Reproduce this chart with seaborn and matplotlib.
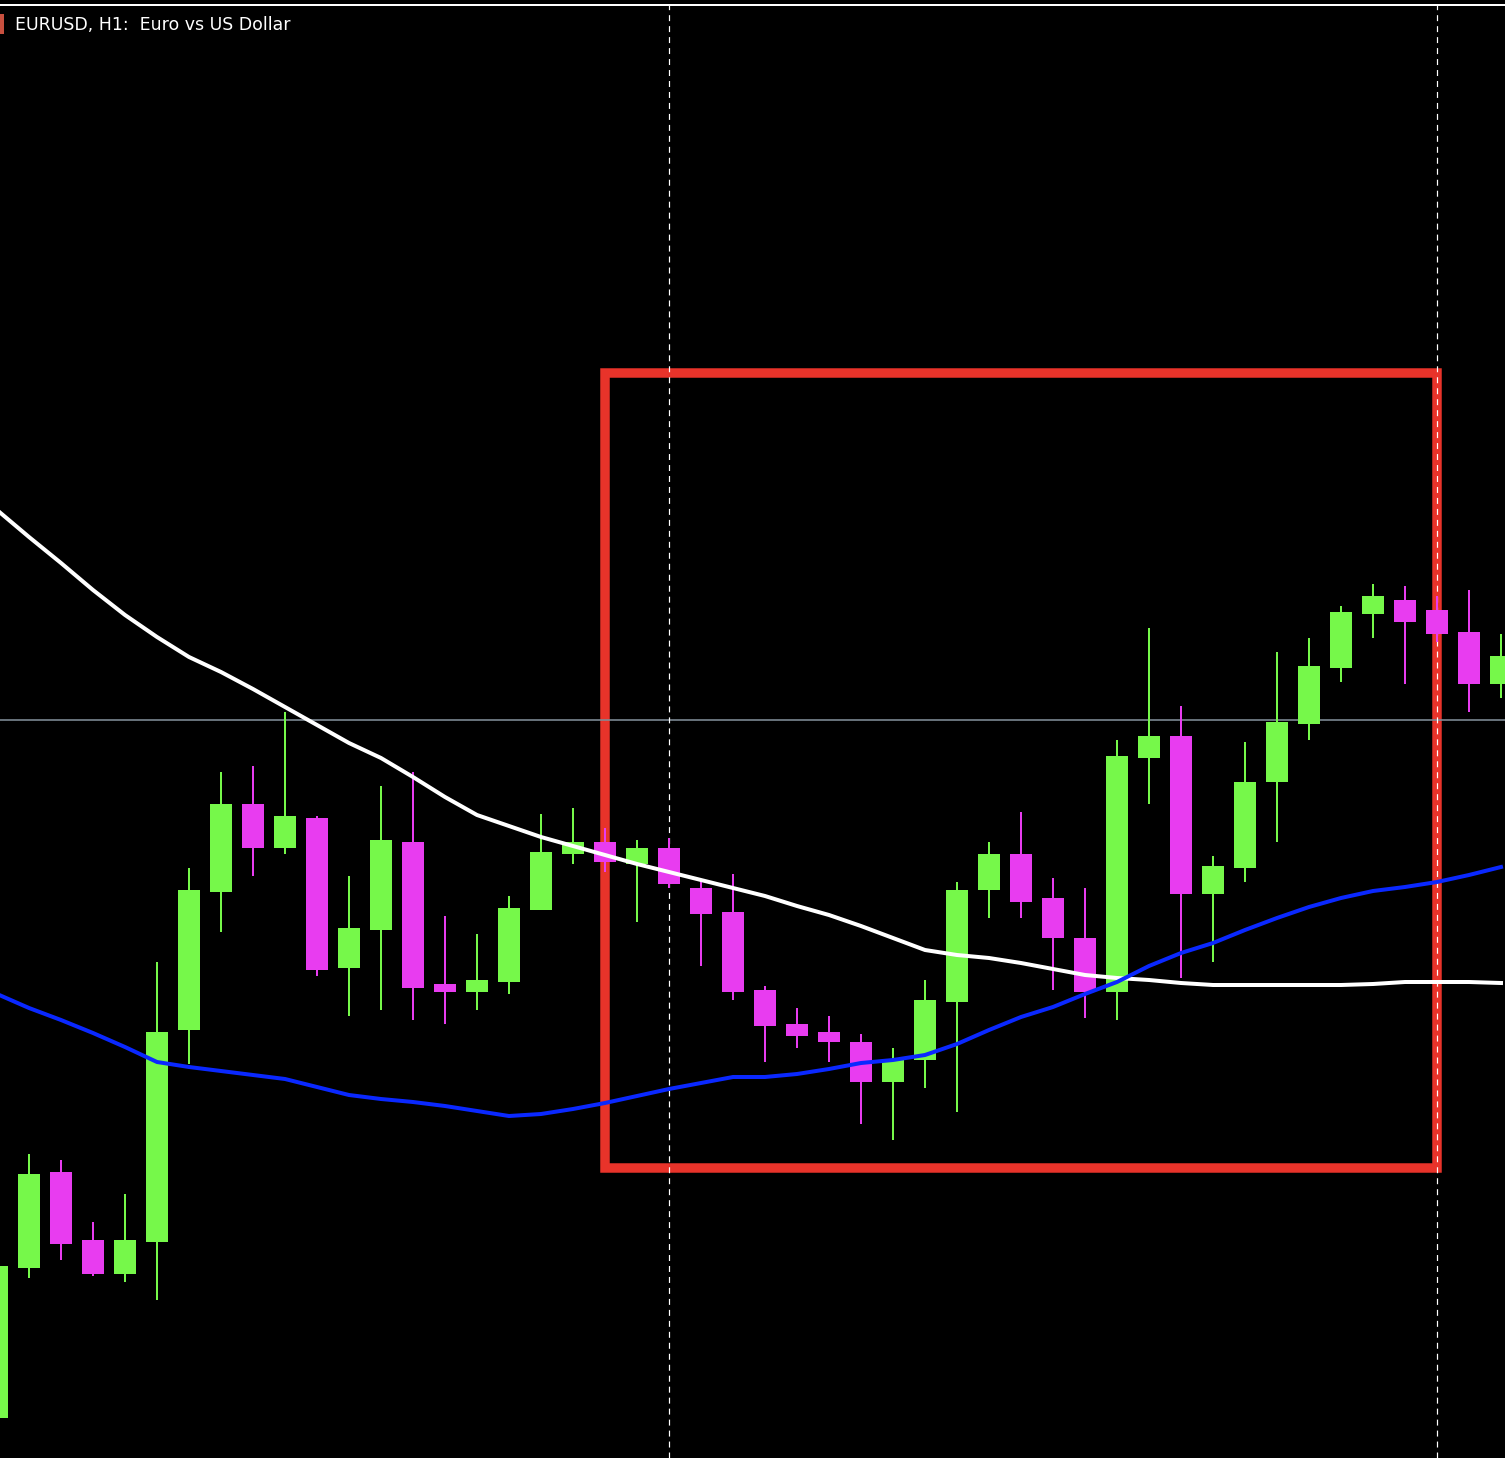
import numpy as np
import pandas as pd
import matplotlib
matplotlib.use("Agg")
import matplotlib.pyplot as plt
import seaborn as sns
from matplotlib.patches import Rectangle

# ---------------- data (EURUSD H1) ----------------
opens = [1.07802, 1.07952, 1.08048, 1.07980, 1.07946, 1.07978, 1.08190, 1.08328, 1.08416, 1.08372,
         1.08402, 1.08252, 1.08290, 1.08378, 1.08236, 1.08228, 1.08238, 1.08310, 1.08366, 1.08378,
         1.08356, 1.08372, 1.08332, 1.08308, 1.08230, 1.08196, 1.08188, 1.08178, 1.08138, 1.08160,
         1.08218, 1.08330, 1.08366, 1.08322, 1.08282, 1.08228, 1.08462, 1.08484, 1.08326, 1.08352,
         1.08438, 1.08496, 1.08552, 1.08606, 1.08620, 1.08610, 1.08588, 1.08536]
highs = [1.07958, 1.08066, 1.08060, 1.07998, 1.08026, 1.08258, 1.08352, 1.08448, 1.08454, 1.08508,
         1.08404, 1.08344, 1.08434, 1.08448, 1.08304, 1.08286, 1.08324, 1.08406, 1.08412, 1.08392,
         1.08380, 1.08382, 1.08340, 1.08346, 1.08234, 1.08212, 1.08204, 1.08186, 1.08172, 1.08240,
         1.08338, 1.08378, 1.08408, 1.08342, 1.08332, 1.08480, 1.08592, 1.08514, 1.08364, 1.08478,
         1.08568, 1.08582, 1.08614, 1.08636, 1.08634, 1.08624, 1.08630, 1.08586]
lows = [1.07795, 1.07942, 1.07960, 1.07944, 1.07938, 1.07920, 1.08156, 1.08288, 1.08344, 1.08366,
        1.08244, 1.08204, 1.08210, 1.08200, 1.08196, 1.08210, 1.08226, 1.08310, 1.08356, 1.08348,
        1.08298, 1.08332, 1.08254, 1.08220, 1.08158, 1.08172, 1.08158, 1.08096, 1.08080, 1.08132,
        1.08108, 1.08302, 1.08302, 1.08230, 1.08202, 1.08200, 1.08416, 1.08242, 1.08258, 1.08338,
        1.08378, 1.08480, 1.08538, 1.08582, 1.08536, 1.08578, 1.08508, 1.08522]
closes = [1.07954, 1.08046, 1.07976, 1.07946, 1.07980, 1.08188, 1.08330, 1.08416, 1.08372, 1.08404,
          1.08250, 1.08292, 1.08380, 1.08232, 1.08228, 1.08240, 1.08312, 1.08368, 1.08378, 1.08358,
          1.08372, 1.08336, 1.08306, 1.08228, 1.08194, 1.08184, 1.08178, 1.08138, 1.08160, 1.08220,
          1.08330, 1.08366, 1.08318, 1.08282, 1.08228, 1.08464, 1.08484, 1.08326, 1.08354, 1.08438,
          1.08498, 1.08554, 1.08608, 1.08624, 1.08598, 1.08586, 1.08536, 1.08564]
ma_slow = [1.08710, 1.08683, 1.08657, 1.08630, 1.08605, 1.08583, 1.08563, 1.08548, 1.08531, 1.08513,
           1.08495, 1.08477, 1.08462, 1.08443, 1.08423, 1.08405, 1.08394, 1.08383, 1.08374, 1.08365,
           1.08356, 1.08348, 1.08340, 1.08332, 1.08324, 1.08314, 1.08305, 1.08294, 1.08282, 1.08270,
           1.08265, 1.08262, 1.08257, 1.08251, 1.08245, 1.08242, 1.08240, 1.08237, 1.08235, 1.08235,
           1.08235, 1.08235, 1.08235, 1.08236, 1.08238, 1.08238, 1.08238, 1.08237]
ma_fast = [1.08226, 1.08212, 1.08200, 1.08187, 1.08173, 1.08158, 1.08153, 1.08149, 1.08145, 1.08141,
           1.08133, 1.08125, 1.08121, 1.08118, 1.08114, 1.08109, 1.08104, 1.08106, 1.08111, 1.08117,
           1.08124, 1.08131, 1.08137, 1.08143, 1.08143, 1.08146, 1.08151, 1.08157, 1.08160, 1.08165,
           1.08176, 1.08190, 1.08203, 1.08213, 1.08226, 1.08238, 1.08254, 1.08267, 1.08277, 1.08290,
           1.08302, 1.08313, 1.08322, 1.08329, 1.08333, 1.08338, 1.08345, 1.08353]
bid_price = 1.08500
box_start, box_end = 19, 45
box_low, box_high = 1.08052, 1.08847
vlines_at = [21, 45]
title = "EURUSD, H1:  Euro vs US Dollar"

# ---------------- styling ----------------
UP = "#76F84A"
DOWN = "#E83CF0"
PX = 72 / 100  # points per pixel

fig = plt.figure(figsize=(15.05, 14.58), dpi=100, facecolor="black")
ax = fig.add_axes([0, 0, 1, 1])
ax.set_facecolor("black")
sns.despine(ax=ax, left=True, bottom=True)
plt.rcParams["lines.scale_dashes"] = False

df = pd.DataFrame({"bar": np.arange(len(opens)), "open": opens, "high": highs,
                   "low": lows, "close": closes, "slow": ma_slow, "fast": ma_fast})
up = df["close"] >= df["open"]
cols = np.where(up, UP, DOWN)

# rectangle (zone)
ax.add_patch(Rectangle((box_start, box_low), box_end - box_start, box_high - box_low,
                       fill=False, edgecolor="#E8332A", linewidth=9.5 * PX, zorder=1))
# bid line
ax.axhline(bid_price, color="#808C98", linewidth=1.6 * PX, zorder=1.2)
# period separators
for v in vlines_at:
    ax.axvline(v, color="white", linewidth=1.2 * PX, dashes=(4.3, 3.6), zorder=1.5)

# candles
ax.vlines(df["bar"], df["low"], df["high"], colors=cols, linewidth=2 * PX, zorder=2)
body_bottom = np.minimum(df["open"], df["close"])
body_h = np.abs(df["close"] - df["open"])
ax.bar(df["bar"], body_h, bottom=body_bottom, width=22 / 32, color=cols, linewidth=0, zorder=2.1)

# moving averages
sns.lineplot(data=df, x="bar", y="slow", ax=ax, color="white", linewidth=4 * PX, zorder=3)
sns.lineplot(data=df, x="bar", y="fast", ax=ax, color="#0A28FF", linewidth=4 * PX, zorder=3)

# window top border
ax.axhline(1.09215, color="white", linewidth=2 * PX, zorder=4)

ax.set_xlim(3 / 32, 1508 / 32)
ax.set_ylim(1.07762, 1.09220)
ax.set_xticks([])
ax.set_yticks([])
ax.set_xlabel("")
ax.set_ylabel("")

# title + icon
ax.text(15 / 1505, 1 - 25 / 1458, title, transform=ax.transAxes, color="white",
        fontsize=12.5, family="DejaVu Sans", va="center", ha="left", zorder=5)
ax.add_patch(Rectangle((0, 1 - 34 / 1458), 4 / 1505, 20 / 1458, transform=ax.transAxes,
                       facecolor="#C8503F", edgecolor="none", zorder=5))

fig.savefig("out.png", dpi=100, facecolor="black")
